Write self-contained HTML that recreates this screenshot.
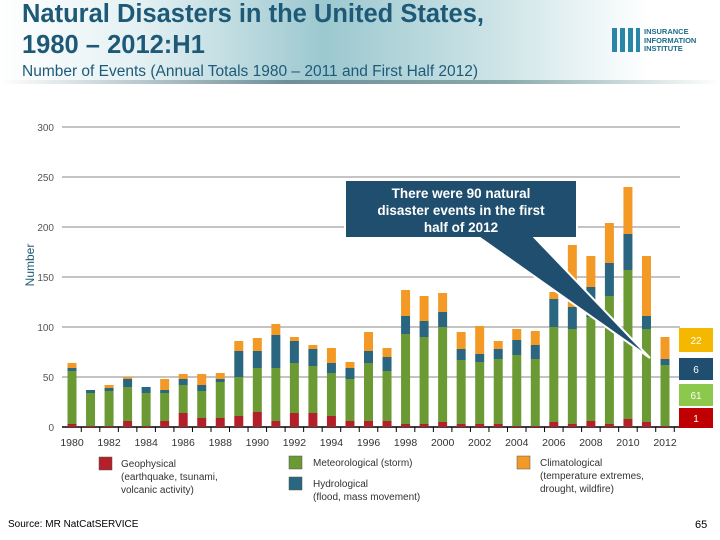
<!DOCTYPE html>
<html><head><meta charset="utf-8"><style>
body{margin:0;width:720px;height:540px;overflow:hidden;background:#fff;font-family:"Liberation Sans",sans-serif;position:relative}
.hdr{position:absolute;left:0;top:0;width:720px;height:84px;background:linear-gradient(90deg,#fff 0%,#e3f0f2 20%,#9cc8cf 45%,#cfe5e8 70%,#fff 90%)}
.hdr:after{content:"";position:absolute;left:0;right:0;bottom:0;height:4px;background:linear-gradient(90deg,#fff,#6e8f98 40%,#8aa 70%,#fff)}
.t{position:absolute;left:22px;color:#1e5a78;font-weight:bold;font-size:25.5px;line-height:31px;top:-1px}
.s{position:absolute;left:22px;top:63px;color:#1e5a78;font-size:15.5px}
</style></head><body>
<div class="hdr"></div>
<div class="t">Natural Disasters in the United States,<br>1980 – 2012:H1</div>
<div class="s">Number of Events (Annual Totals 1980 – 2011 and First Half 2012)</div>
<div style="position:absolute;left:612px;top:28px;font-size:7.5px;font-weight:bold;color:#1e6a8a;line-height:8.5px">
<span style="position:absolute;left:0;top:0;width:28px;height:24px;background:repeating-linear-gradient(90deg,#2a86a8 0 5px,transparent 5px 8px)"></span>
<span style="position:absolute;left:32px;top:0">INSURANCE<br>INFORMATION<br>INSTITUTE</span></div>
<svg id="c" width="720" height="540" style="position:absolute;left:0;top:0"></svg>
<div style="position:absolute;left:8px;top:519px;font-size:10px">Source: MR NatCatSERVICE</div>
<div style="position:absolute;left:695px;top:519px;font-size:11px">65</div>
<script>
const years=[1980,1981,1982,1983,1984,1985,1986,1987,1988,1989,1990,1991,1992,1993,1994,1995,1996,1997,1998,1999,2000,2001,2002,2003,2004,2005,2006,2007,2008,2009,2010,2011,2012];
const geo=[3,1,1,6,1,6,14,9,9,11,15,6,14,14,11,6,6,6,3,3,5,3,3,3,1,1,5,3,6,3,8,5,1];
const met=[53,33,35,34,33,28,28,27,36,39,44,53,50,47,43,42,58,50,90,87,95,64,62,65,71,67,95,95,104,128,149,93,61];
const hyd=[3,3,3,8,6,3,6,6,3,26,17,33,22,17,10,11,12,14,18,16,15,11,8,10,15,14,28,22,30,33,36,13,6];
const cli=[5,0,3,2,0,11,5,11,6,10,13,11,4,4,15,6,19,9,26,25,19,17,28,8,11,14,7,62,31,40,47,60,22];
const yTicks=[0,50,100,150,200,250,300];
const NS="http://www.w3.org/2000/svg",svg=document.getElementById('c');
const y0=427,x0=72,step=(665-72)/32;
const Y=v=>y0-v*1.0, X=i=>x0+i*step;
function el(t,a,p){const e=document.createElementNS(NS,t);for(const k in a)e.setAttribute(k,a[k]);(p||svg).appendChild(e);return e;}
yTicks.forEach(v=>{
 const l=el('line',{x1:62,x2:680,y1:Y(v),y2:Y(v),stroke:v?'#888':'#000','stroke-width':v?1:1.5});
 
 const t=el('text',{x:54,y:Y(v)+4,'font-size':10,fill:'#555','text-anchor':'end'});t.textContent=v;
 
});
const yt=el('text',{x:34,y:265,'font-size':12,fill:'#1e5a78','text-anchor':'middle',transform:'rotate(-90 34 265)'});yt.textContent='Number';

const series=[[geo,'#b3202a','geophysical'],[met,'#6b9a35','meteorological'],[hyd,'#2a6680','hydrological'],[cli,'#f39a26','climatological']];
years.forEach((yr,i)=>{
 let c=0;
 series.forEach(([arr,col,n])=>{
  const v=arr[i];if(v<=0)return;
  const r=el('rect',{x:X(i)-4.5,width:9,y:Y(c+v),height:v*1.0,fill:col});
  
  c+=v;
 });
 const tk=el('line',{x1:X(i)+step/2,x2:X(i)+step/2,y1:y0,y2:y0+5,stroke:'#000'});
 
 if(i%2==0){const t=el('text',{x:X(i),y:446,'font-size':10.5,fill:'#333','text-anchor':'middle'});t.textContent=yr;
 }
});
const co=el('path',{d:'M345 180 H577 V238 H535 L650 358 L480 238 H345 Z',fill:'#1f4e6e',stroke:'#fff','stroke-width':2});

['There were 90 natural','disaster events in the first','half of 2012'].forEach((s,k)=>{
 const t=el('text',{x:461,y:198+k*17,'font-size':13.5,'font-weight':'bold',fill:'#fff','text-anchor':'middle'});t.textContent=s;
 
});
const sideVals=[cli[32],hyd[32],met[32],geo[32]];
[['#f5b800',328,24],['#1f4e6e',358,22],['#8cc84b',384,22],['#c00000',408,20]].forEach(([col,y,h],k)=>{
 const r=el('rect',{x:679,y:y,width:34,height:h,fill:col});
 
 const t=el('text',{x:696,y:y+h/2+4,'font-size':10,fill:'#fff','text-anchor':'middle'});t.textContent=sideVals[k];
 
});
[[99,457,'#b3202a',['Geophysical','(earthquake, tsunami,','volcanic activity)'],121],
 [289,456,'#6b9a35',['Meteorological (storm)'],313],
 [289,477,'#2a6680',['Hydrological','(flood, mass movement)'],313],
 [517,456,'#f39a26',['Climatological','(temperature extremes,','drought, wildfire)'],540]].forEach(([x,y,col,lines,tx])=>{
 const r=el('rect',{x:x,y:y,width:13,height:13,fill:col,stroke:'#555','stroke-width':0.5});
 
 lines.forEach((s,k)=>{const t=el('text',{x:tx,y:y+10+k*13,'font-size':10,fill:'#333'});t.textContent=s;
 });
});
</script>
</body></html>
